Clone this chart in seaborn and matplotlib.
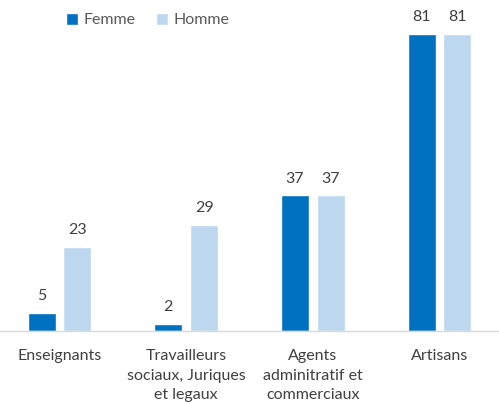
import numpy as np
import pandas as pd
import seaborn as sns
import matplotlib.pyplot as plt

categories = ['Enseignants', 'Travailleurs\nsociaux, Juriques\net legaux',
              'Agents\nadminitratif et\ncommerciaux', 'Artisans']
femme = [5, 2, 37, 81]
homme = [23, 29, 37, 81]

df = pd.DataFrame({
    'categorie': categories * 2,
    'valeur': femme + homme,
    'sexe': ['Femme'] * 4 + ['Homme'] * 4,
})

sns.set_style('white')
plt.rcParams['font.family'] = ['Lato', 'DejaVu Sans']

fig = plt.figure(figsize=(4.99, 4.04), dpi=100)
ax = fig.add_axes([0, 1 - 331 / 404, 1, 331 / 404])

sns.barplot(data=df, x='categorie', y='valeur', hue='sexe',
            palette={'Femme': '#0070C0', 'Homme': '#BDD7EE'},
            width=0.567, gap=0.22, ax=ax, saturation=1)

for c in ax.containers:
    ax.bar_label(c, padding=7, fontsize=11.5, color='#404040')

ax.set_xlim(-0.47, 3.47)
ax.set_ylim(0, 90.3)
ax.set_xlabel('')
ax.set_ylabel('')
ax.set_yticks([])
for s in ['top', 'right', 'left']:
    ax.spines[s].set_visible(False)
ax.spines['bottom'].set_color('#D9D9D9')
ax.spines['bottom'].set_linewidth(1)
ax.tick_params(axis='x', length=0, pad=13, labelsize=11.5, labelcolor='#404040')
for t in ax.get_xticklabels():
    t.set_linespacing(1.5)

ax.legend(loc='upper left', bbox_to_anchor=(0.11, 0.995), ncol=2, frameon=False,
          fontsize=11.5, labelcolor='#595959', handlelength=0.75, handleheight=0.75,
          handletextpad=0.35, columnspacing=1.3, borderaxespad=0.3)

fig.savefig('out.png', dpi=100)
